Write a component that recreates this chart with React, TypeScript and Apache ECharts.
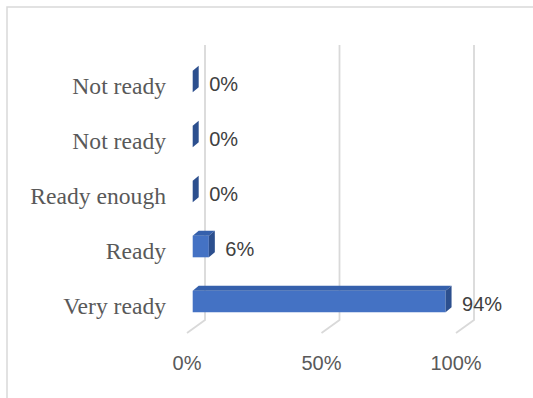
import React, { useEffect, useRef } from "react";
import * as echarts from "echarts";

const categories = ["Very ready", "Ready", "Ready enough", "Not ready", "Not ready"];
const values = [94, 6, 0, 0, 0];
const xTicks = [0, 50, 100];

export default function App() {
  const ref = useRef<HTMLDivElement>(null);
  useEffect(() => {
    if (!ref.current) return;
    const chart = echarts.init(ref.current, undefined, { renderer: "svg" });
    const DX = 6, DY = -5, H = 21.6;
    chart.setOption({
      animation: false,
      backgroundColor: "#ffffff",
      graphic: [
        {
          type: "rect",
          shape: { x: 7, y: 7, width: 700, height: 700 },
          style: { fill: "none", stroke: "#D9D9D9", lineWidth: 1.5 },
          silent: true,
          z: 0,
        },
      ],
      grid: { left: 187, right: 77, top: 58, bottom: 65, containLabel: false },
      xAxis: {
        type: "value",
        min: 0,
        max: 100,
        interval: 50,
        axisLine: { show: false },
        axisTick: { show: false },
        splitLine: { show: false },
        axisLabel: {
          formatter: "{value}%",
          fontFamily: "Liberation Sans",
          fontSize: 20,
          color: "#595959",
          margin: 20,
        },
      },
      yAxis: {
        type: "category",
        data: categories,
        axisLine: { show: false },
        axisTick: { show: false },
        splitLine: { show: false },
        axisLabel: {
          fontFamily: "Liberation Serif",
          fontSize: 23.6,
          color: "#595959",
          margin: 21,
        },
      },
      series: [
        {
          type: "custom",
          silent: true,
          z: 1,
          encode: { x: 0, y: 1 },
          data: xTicks.map((t) => [t, 0]),
          renderItem: (params: any, api: any) => {
            const cs = params.coordSys;
            const x = api.coord([api.value(0), 0])[0];
            const top = cs.y;
            const bottom = cs.y + cs.height;
            return {
              type: "polyline",
              shape: {
                points: [
                  [x + 18, top - 13],
                  [x + 18, bottom - 13],
                  [x, bottom],
                ],
              },
              style: { fill: "none", stroke: "#D9D9D9", lineWidth: 1.8 },
            };
          },
        },
        {
          type: "custom",
          z: 2,
          encode: { x: 0, y: 1 },
          data: values.map((v, i) => [v, i]),
          renderItem: (params: any, api: any) => {
            const v = api.value(0);
            const idx = api.value(1);
            const s = api.coord([0, idx]);
            const e = api.coord([v, idx]);
            const cy = s[1] - 4;
            const x0 = s[0] + 5.7;
            const x1 = e[0] + 5.7;
            const top = cy - H / 2;
            const bot = cy + H / 2;
            return {
              type: "group",
              children: [
                {
                  type: "rect",
                  shape: { x: x0, y: top, width: x1 - x0, height: H },
                  style: { fill: "#4472C4" },
                },
                {
                  type: "polygon",
                  shape: {
                    points: [
                      [x0, top],
                      [x0 + DX, top + DY],
                      [x1 + DX, top + DY],
                      [x1, top],
                    ],
                  },
                  style: { fill: "#3560AC" },
                },
                {
                  type: "polygon",
                  shape: {
                    points: [
                      [x1, top],
                      [x1 + DX, top + DY],
                      [x1 + DX, bot + DY],
                      [x1, bot],
                    ],
                  },
                  style: { fill: "#2C4F8E" },
                },
                {
                  type: "text",
                  style: {
                    x: x1 + 16.5,
                    y: cy + 2,
                    text: v + "%",
                    fill: "#404040",
                    font: "20px 'Liberation Sans'",
                    textAlign: "left",
                    textVerticalAlign: "middle",
                  },
                },
              ],
            };
          },
        },
      ],
    });
    return () => chart.dispose();
  }, []);
  return (
    <div
      ref={ref}
      style={{ position: "absolute", left: 0, top: 0, width: 533, height: 398 }}
    />
  );
}
